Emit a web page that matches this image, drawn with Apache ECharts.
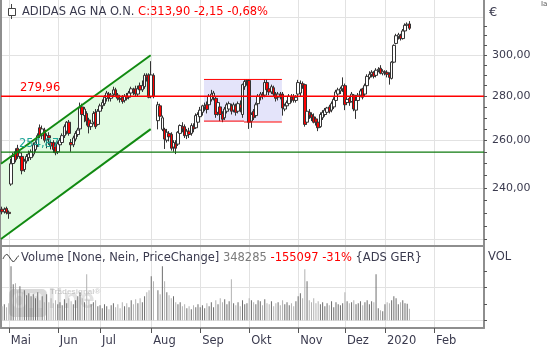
<!DOCTYPE html>
<html><head><meta charset="utf-8">
<script src="https://cdn.jsdelivr.net/npm/echarts@6/dist/echarts.min.js"></script>
<style>html,body{margin:0;padding:0;background:#fff}#c{width:550px;height:350px}</style>
</head><body><div id="c"></div>
<script>
// ---------- data ----------
const monthNames = ['Apr','Mai','Jun','Jul','Aug','Sep','Okt','Nov','Dez','2020','Feb','Mär'];
const monthTradingDays = [3,22,19,23,22,22,22,21,18,22,20,3];
const monthLabels = ['Mai','Jun','Jul','Aug','Sep','Okt','Nov','Dez','2020','Feb'];

// [open, close, low, high]
const ohlc = [
[231.5,230.5,229.5,232.5],[230.5,231.5,229.8,232.2],[231.8,230.2,229.5,232.5],[230.3,229.8,227.8,231.0],
[241.5,249.9,240.8,252.0],[250.0,253.0,249.0,254.5],[255.0,251.5,250.5,256.5],[256.5,253.0,252.0,258.0],
[253.0,254.5,252.0,256.0],[253.0,247.0,245.5,254.0],[247.5,251.0,246.5,252.0],[251.0,253.0,250.0,254.0],
[252.5,254.0,251.0,255.5],[252.5,255.0,251.5,256.0],[254.0,258.0,253.0,259.0],[256.0,259.0,255.0,260.0],
[258.0,262.0,257.0,263.0],[265.5,262.0,261.0,267.0],[262.0,265.0,260.5,266.5],[264.5,260.0,259.0,265.5],
[260.0,262.0,256.5,263.0],[262.0,261.0,258.0,263.5],[259.0,257.5,256.0,260.0],[259.0,256.0,254.5,260.0],
[258.0,254.5,253.5,259.0],[255.0,258.5,254.0,259.5],[258.0,260.0,256.5,261.0],[259.0,262.0,258.0,263.0],
[262.0,266.0,261.0,267.0],[264.0,268.0,262.5,268.5],[268.0,263.0,262.0,269.0],[259.0,258.0,255.0,260.5],
[258.0,261.0,257.0,262.0],[260.5,263.0,259.5,264.0],[262.5,264.5,261.5,265.5],[265.0,274.5,264.0,277.0],
[275.0,271.5,270.5,276.5],[271.0,274.0,268.0,275.0],[272.0,268.5,266.5,273.0],[269.0,266.0,263.0,270.0],
[266.0,267.5,264.5,268.5],[268.0,272.0,267.0,273.0],[272.5,266.0,265.0,274.0],[267.0,273.0,266.5,274.0],
[273.0,275.5,272.0,276.5],[275.5,277.0,274.0,278.5],[276.5,279.5,275.5,280.5],[279.0,281.5,277.5,282.5],
[281.0,279.0,277.5,282.0],[279.0,280.5,277.5,281.5],[281.0,283.0,279.5,284.5],[283.0,280.5,279.5,284.0],
[280.5,279.0,278.0,281.5],[279.0,278.5,277.0,280.5],[279.5,277.5,276.5,280.5],[278.0,280.0,277.0,281.0],
[280.0,279.0,278.0,281.5],[279.5,281.5,278.5,282.5],[281.5,283.5,280.5,284.5],[283.0,282.0,280.5,284.0],
[283.5,281.0,280.0,285.0],[281.0,283.5,280.0,285.0],[285.0,283.0,281.5,286.5],[283.0,285.0,282.0,287.5],
[284.5,290.0,283.5,291.0],[290.0,289.0,287.0,291.0],[290.2,279.5,279.0,291.0],[279.8,290.2,279.0,297.0],
[290.0,279.8,279.0,291.0],null,[268.7,276.0,264.8,277.4],[275.5,270.7,269.0,276.5],
[264.8,270.0,264.0,271.0],[264.8,260.5,256.2,265.5],[260.0,263.5,259.0,265.0],[263.0,261.5,259.5,264.0],
[262.6,256.5,255.5,263.5],[257.0,259.0,255.0,260.0],[258.5,256.5,254.0,260.0],[258.3,263.5,257.5,264.0],
[263.0,266.5,262.0,267.0],[266.0,265.0,263.5,268.0],[266.0,262.0,261.0,267.0],[262.0,264.0,260.5,265.0],
[264.0,262.5,261.0,265.5],[263.0,266.5,262.0,267.5],[266.0,265.0,263.5,267.5],[265.5,271.0,265.0,272.0],
[268.0,271.5,267.0,272.5],[270.5,273.5,269.0,275.0],[272.5,275.5,271.0,276.0],[275.0,275.5,273.0,277.0],
[276.0,273.8,272.0,277.5],[276.0,280.0,275.0,281.0],[278.5,281.0,277.5,283.0],[280.0,281.5,278.0,282.5],
[279.0,271.5,270.0,280.0],[272.5,277.0,271.0,278.0],[275.0,271.5,268.5,276.0],[272.0,269.3,268.0,273.0],
[270.0,274.0,269.0,275.0],[273.0,276.0,272.0,277.0],[274.0,276.5,273.0,277.5],[275.5,273.0,271.5,276.5],
[273.5,276.0,272.5,277.0],[275.5,272.5,271.0,276.5],[273.0,276.5,272.0,277.5],[276.0,274.5,272.5,278.0],
[271.5,285.5,270.0,286.0],[284.5,287.0,283.0,288.0],[287.0,287.5,285.0,288.0],[287.5,268.0,265.0,288.0],
[268.5,271.5,265.5,272.5],[273.0,270.0,269.0,274.0],[271.0,276.0,270.0,277.0],[276.5,280.0,275.0,281.0],
[279.5,281.0,278.0,282.0],[281.0,280.0,278.5,282.0],[280.5,286.5,279.5,288.0],[286.5,283.0,282.0,288.0],
[283.5,282.0,280.5,284.5],[282.0,284.5,281.0,285.5],[284.0,281.0,280.0,285.0],[281.0,279.0,277.5,282.0],
[279.5,281.0,278.0,282.0],[281.0,280.0,278.5,282.0],[281.0,274.5,271.0,282.0],[274.0,275.5,273.0,276.5],
[275.5,277.0,274.0,278.0],[276.5,280.0,276.0,281.0],[279.5,278.5,277.0,281.0],[280.0,278.0,277.0,281.0],
[278.0,279.5,277.0,280.5],[281.0,286.5,280.0,287.8],[281.5,286.0,280.0,287.5],[286.0,285.0,283.5,287.0],
[285.5,267.0,266.0,286.0],[268.0,273.0,267.0,274.5],[272.5,271.0,269.5,274.0],[271.5,270.0,268.5,272.5],
[270.5,268.0,267.5,272.0],[269.5,268.0,266.5,270.5],[268.0,265.5,264.0,268.5],[266.0,271.5,265.5,272.5],
[270.0,272.5,269.0,273.5],[271.5,273.5,270.5,274.5],[272.5,274.5,271.5,275.0],[275.0,273.0,272.0,276.0],
[273.5,276.5,272.5,277.5],[275.0,278.5,274.0,279.5],[278.0,282.0,277.0,283.0],[281.0,283.0,279.5,284.0],
[282.5,283.5,281.0,284.5],[283.5,285.0,282.0,289.0],[285.0,276.0,273.5,286.0],[277.0,278.5,276.0,279.5],
[279.0,277.0,275.5,280.0],[277.5,281.0,277.0,282.0],[280.5,274.0,273.0,281.0],[273.5,278.0,269.5,279.0],
[278.0,280.5,276.5,281.5],[280.5,282.5,279.5,283.5],[283.5,279.5,278.5,284.0],[281.0,285.0,280.0,286.0],
[285.0,289.5,284.0,290.5],[289.0,290.5,288.0,292.0],[290.5,291.5,289.0,292.5],[291.5,289.5,288.5,292.0],
[290.0,292.5,289.0,293.5],[292.5,293.0,291.5,294.0],[293.5,291.0,290.5,295.0],[291.0,292.0,290.0,293.0],
[291.5,291.7,290.0,292.5],[291.5,290.5,289.0,292.5],[290.5,289.0,285.5,291.5],[288.5,296.5,288.0,297.0],
[296.5,305.0,296.0,305.5],[306.0,310.0,305.5,311.0],[309.5,310.5,308.0,311.5],[310.0,308.5,307.5,311.0],
[308.5,312.5,308.0,313.5],[312.5,315.5,312.0,316.5],[315.5,316.05,314.5,317.0],[316.2,313.9,313.0,317.7]
];

// volume in thousands of shares
const volumeK = [
427,488,397,519,1647,1098,1129,915,1037,854,915,763,824,732,793,671,854,610,732,549,
793,549,671,519,610,488,549,458,641,519,671,580,488,610,732,854,671,549,1403,610,
488,549,610,427,458,366,488,427,336,458,519,397,488,366,549,427,519,397,610,488,
641,519,671,549,732,854,915,1342,1190,null,915,793,1647,1190,854,763,671,732,549,488,
549,427,488,366,427,336,458,397,488,397,458,366,519,427,549,397,610,488,671,549,
641,488,580,1251,519,458,549,427,610,488,519,671,610,549,488,610,580,458,641,519,
488,580,427,519,549,458,610,488,549,458,519,427,580,732,824,671,1556,1190,610,549,
671,519,580,488,549,427,519,458,580,397,549,488,458,519,854,580,519,549,610,488,
519,580,458,549,610,488,580,549,1403,366,305,275,488,549,519,610,732,671,488,549,
610,519,503,348.285
];

const levelRed = 279.96;
const levelGreen = 254.87;
const channelX = [-0.5, 66.75];
const channelUpper = [249.9, 300.0];
const channelLower = [220.2, 264.9];
const boxX = [90.7, 108.7, 125.7];
const boxTop = 288.0;
const boxBottom = [268.5, 268.1];

const priceGridTicks = [220,240,260,280,300,320];
const priceLabelTicks = [240,260,280,300];
const priceMinorTicks = [220,225,230,235,240,245,250,255,260,265,270,275,280,285,290,295,300,305,310,315];
const volTickValues = [0,500,1000,1500];
const volGridValues = [0,1000];

// ---------- build ----------
const categories = [];
const monthStart = {};
monthNames.forEach((m, k) => {
  for (let d = 1; d <= monthTradingDays[k]; d++) {
    if (d === 1) monthStart[m] = categories.length;
    categories.push(m + ' ' + d);
  }
});
const N = categories.length;
const monthTickIdx = monthLabels.map(m => monthStart[m]);
const labelByIdx = {};
monthLabels.forEach(m => { labelByIdx[monthStart[m]] = m; });

const FONT = '"DejaVu Sans", Verdana, sans-serif';
const FS = 11.5;
const TXT = '#3a3a4e';
const GRID = '#e2e2e2';
const FRAME = '#8e8e8e';

const candleData = ohlc.map(v => v ? v : ['-','-','-','-']);
const volData = volumeK.map((v, i) => {
  if (v == null) return '-';
  const c = ohlc[i];
  const up = c ? c[1] >= c[0] : true;
  return { value: v, itemStyle: { color: up ? '#6e6e6e' : '#b2b2b2' } };
});

function fmtPrice(v) { return Number(v).toFixed(2).replace('.', ','); }

function renderFills(params, api) {
  const ch = [
    api.coord([channelX[0], channelUpper[0]]),
    api.coord([channelX[1], channelUpper[1]]),
    api.coord([channelX[1], channelLower[1]]),
    api.coord([channelX[0], channelLower[0]])
  ];
  const b0 = api.coord([boxX[0], boxTop]);
  const b1 = api.coord([boxX[2], (boxBottom[0] + boxBottom[1]) / 2]);
  return { type: 'group', children: [
    { type: 'polygon', shape: { points: ch }, style: { fill: '#e2fbe2' } },
    { type: 'rect', shape: { x: b0[0], y: b0[1], width: b1[0] - b0[0], height: b1[1] - b0[1] }, style: { fill: '#e4e4fa' } }
  ]};
}

function renderLines(params, api) {
  const cs = params.coordSys;
  const ch = [];
  const u0 = api.coord([channelX[0], channelUpper[0]]), u1 = api.coord([channelX[1], channelUpper[1]]);
  const l0 = api.coord([channelX[0], channelLower[0]]), l1 = api.coord([channelX[1], channelLower[1]]);
  ch.push({ type: 'line', shape: { x1: u0[0], y1: u0[1], x2: u1[0], y2: u1[1] }, style: { stroke: '#118a11', lineWidth: 2 } });
  ch.push({ type: 'line', shape: { x1: l0[0], y1: l0[1], x2: l1[0], y2: l1[1] }, style: { stroke: '#118a11', lineWidth: 2 } });
  const t0 = api.coord([boxX[0], boxTop]), t1 = api.coord([boxX[2], boxTop]);
  ch.push({ type: 'line', shape: { x1: t0[0], y1: t0[1], x2: t1[0], y2: t1[1] }, style: { stroke: '#ff0000', lineWidth: 1 } });
  const a0 = api.coord([boxX[0], boxBottom[0]]), a1 = api.coord([boxX[1], boxBottom[0]]);
  const c0 = api.coord([boxX[1], boxBottom[1]]), c1 = api.coord([boxX[2], boxBottom[1]]);
  ch.push({ type: 'line', shape: { x1: a0[0], y1: a0[1], x2: a1[0], y2: a1[1] }, style: { stroke: '#ff0000', lineWidth: 1 } });
  ch.push({ type: 'line', shape: { x1: c0[0], y1: c0[1], x2: c1[0], y2: c1[1] }, style: { stroke: '#ff0000', lineWidth: 1 } });
  const yr = api.coord([0, levelRed])[1];
  const yg = api.coord([0, levelGreen])[1];
  ch.push({ type: 'line', shape: { x1: cs.x, y1: yr, x2: cs.x + cs.width, y2: yr }, style: { stroke: '#ff0000', lineWidth: 1.3 } });
  ch.push({ type: 'line', shape: { x1: cs.x, y1: yg, x2: cs.x + cs.width, y2: yg }, style: { stroke: '#0e7a0e', lineWidth: 1.3 } });
  ch.push({ type: 'text', x: cs.x + 19, y: yr - 2, style: { text: fmtPrice(levelRed), fill: '#ff0000', font: FS + 'px ' + FONT, align: 'left', verticalAlign: 'bottom' } });
  ch.push({ type: 'text', x: cs.x + 18, y: yg - 2, style: { text: fmtPrice(levelGreen), fill: '#1ea597', font: FS + 'px ' + FONT, align: 'left', verticalAlign: 'bottom' } });
  return { type: 'group', children: ch };
}

const frameLine = { show: true, onZero: false, lineStyle: { color: FRAME, width: 2 } };
const off = { show: false };

const option = {
  animation: false,
  backgroundColor: '#ffffff',
  grid: [
    { left: 1, top: 0, width: 483, height: 246, show: false },
    { left: 1, top: 246, width: 483, height: 82, show: false }
  ],
  xAxis: [
    { type: 'category', gridIndex: 0, data: categories, position: 'top', boundaryGap: true, show: false },
    { type: 'category', gridIndex: 1, data: categories, position: 'top', boundaryGap: true, show: false },
    { type: 'value', gridIndex: 0, min: -0.5, max: N - 0.5, position: 'bottom',
      axisLine: frameLine, axisTick: { show: false, customValues: monthTickIdx },
      axisLabel: off, splitLine: { show: true, lineStyle: { color: GRID, width: 1 } } },
    { type: 'value', gridIndex: 1, min: -0.5, max: N - 0.5, position: 'bottom',
      axisLine: frameLine,
      axisTick: { show: true, customValues: monthTickIdx, length: 5, lineStyle: { color: '#555' } },
      axisLabel: { show: true, customValues: monthTickIdx, formatter: v => labelByIdx[Math.round(v)] || '',
        align: 'left', padding: [0, 0, 0, 2], margin: 7, color: TXT, fontSize: FS, fontFamily: FONT },
      splitLine: { show: true, lineStyle: { color: GRID, width: 1 } } }
  ],
  yAxis: [
    { type: 'log', gridIndex: 0, min: 217.6, max: 329.2, position: 'right',
      axisLine: off, axisTick: { show: false, customValues: priceGridTicks },
      axisLabel: { show: true, customValues: priceLabelTicks, formatter: fmtPrice, margin: 8,
        color: TXT, fontSize: 11, fontFamily: FONT },
      splitLine: { show: true, lineStyle: { color: GRID, width: 1 } } },
    { type: 'log', gridIndex: 0, min: 217.6, max: 329.2, position: 'right',
      axisLine: frameLine,
      axisTick: { show: true, customValues: priceMinorTicks, length: 3, lineStyle: { color: '#555' } },
      axisLabel: off, splitLine: off },
    { type: 'value', gridIndex: 1, min: -235, max: 2265, position: 'right',
      axisLine: frameLine,
      axisTick: { show: true, customValues: volTickValues, length: 3, lineStyle: { color: '#555' } },
      axisLabel: off, splitLine: off },
    { type: 'value', gridIndex: 1, min: -235, max: 2265, position: 'right',
      axisLine: off,
      axisTick: { show: false, customValues: volGridValues },
      axisLabel: off, splitLine: { show: true, lineStyle: { color: GRID, width: 1 } } },
    { type: 'value', gridIndex: 0, min: 0, max: 1, position: 'left',
      axisLine: frameLine, axisTick: off, axisLabel: off, splitLine: off },
    { type: 'value', gridIndex: 1, min: 0, max: 1, position: 'left',
      axisLine: frameLine, axisTick: off, axisLabel: off, splitLine: off }
  ],
  series: [
    { type: 'custom', name: 'fills', xAxisIndex: 2, yAxisIndex: 0, z: 1, silent: true,
      renderItem: renderFills, data: [[channelX[0], channelUpper[0]]] },
    { type: 'candlestick', name: 'ADS', xAxisIndex: 0, yAxisIndex: 0, z: 3,
      data: candleData, barWidth: 3,
      itemStyle: { color: '#ffffff', color0: '#ff0000', borderColor: '#333333', borderColor0: '#333333', borderWidth: 1 } },
    { type: 'custom', name: 'lines', xAxisIndex: 2, yAxisIndex: 0, z: 5, silent: true,
      renderItem: renderLines, data: [[channelX[0], channelUpper[0]]] },
    { type: 'bar', name: 'Volume', xAxisIndex: 1, yAxisIndex: 2, z: 3, barWidth: 1, data: volData }
  ],
  graphic: [
    { type: 'rect', left: 8, top: 8, shape: { width: 7, height: 7 }, style: { fill: '#fff', stroke: '#444', lineWidth: 1 }, z: 100 },
    { type: 'line', shape: { x1: 11.5, y1: 4, x2: 11.5, y2: 8 }, style: { stroke: '#444', lineWidth: 1 }, z: 100 },
    { type: 'line', shape: { x1: 11.5, y1: 15, x2: 11.5, y2: 19 }, style: { stroke: '#444', lineWidth: 1 }, z: 100 },
    { type: 'text', left: 22, top: 6, z: 100, style: {
        text: '{n|ADIDAS AG NA O.N.} {r|C:313,90 -2,15 -0,68%}',
        font: FS + 'px ' + FONT, fill: TXT,
        rich: { n: { fill: TXT, font: FS + 'px ' + FONT }, r: { fill: '#ff0000', font: FS + 'px ' + FONT } } } },
    { type: 'text', left: 489, top: 6, z: 100, style: { text: '€', font: '13px ' + FONT, fill: TXT } },
    { type: 'text', left: 541, top: 1, z: 100, style: { text: 'Ia', font: '7px ' + FONT, fill: '#555' } },
    { type: 'text', left: 488, top: 251, z: 100, style: { text: 'VOL', font: FS + 'px ' + FONT, fill: TXT } },
    { type: 'polyline', z: 100, shape: { points: [[3,259],[5,255.5],[7,254.5],[9,256.5],[11,259.5],[13,261.5],[15,260.5],[17,257.5],[19,255.5]], smooth: 0.4 },
      style: { stroke: '#333', lineWidth: 1, fill: null } },
    { type: 'text', left: 21, top: 252, z: 100, style: {
        text: '{v|Volume [None, Nein, PriceChange]} {g|348285} {r|-155097 -31%} {d|\u007BADS GER\u007D}',
        font: FS + 'px ' + FONT, fill: TXT,
        rich: { v: { fill: TXT, font: FS + 'px ' + FONT }, g: { fill: '#7a7a7a', font: FS + 'px ' + FONT },
                r: { fill: '#ff0000', font: FS + 'px ' + FONT }, d: { fill: TXT, font: FS + 'px ' + FONT } } } },
    { type: 'rect', left: 9, top: 289, z: 1, shape: { width: 38, height: 28, r: 5 }, style: { fill: 'rgba(120,120,120,0.28)' } },
    { type: 'text', left: 11, top: 287, z: 2, style: { text: 'on', font: 'bold 27px "Liberation Sans", Arial, sans-serif', fill: 'rgba(255,255,255,0.55)' } },
    { type: 'text', left: 48, top: 287, z: 2, style: { text: 'line', font: 'bold 27px "Liberation Sans", Arial, sans-serif', fill: 'rgba(150,150,150,0.28)' } },
    { type: 'text', left: 50, top: 288, z: 2, style: { text: 'Tradesignal®', font: 'bold 8px "Liberation Sans", Arial, sans-serif', fill: 'rgba(150,150,150,0.45)' } }
  ]
};

const chart = echarts.init(document.getElementById('c'), null, { renderer: 'canvas' });
chart.setOption(option);
</script>
</body></html>
